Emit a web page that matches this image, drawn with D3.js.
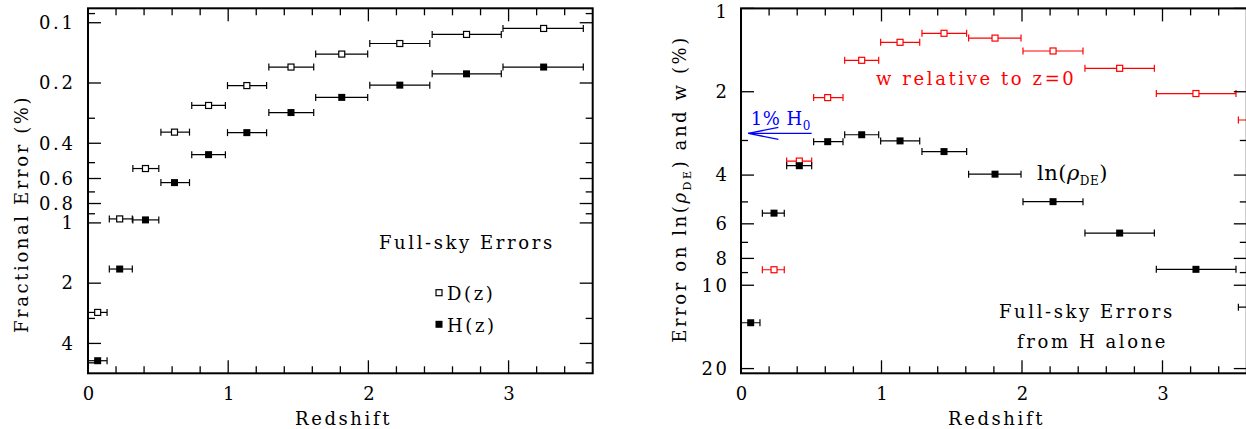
<!DOCTYPE html>
<html><head><meta charset="utf-8">
<script src="https://cdn.jsdelivr.net/npm/d3@7"></script>
<style>
html,body{margin:0;padding:0;background:#fff;}
svg{display:block;}
text{font-family:"DejaVu Serif","Liberation Serif",serif;}
</style></head>
<body>
<svg id="chart" width="1246" height="429"></svg>
<script>
// ---------- data ----------
// left panel: redshift bins
const zLoL  = [0.00, 0.152, 0.32, 0.52, 0.74, 0.995, 1.29, 1.624, 2.01, 2.455, 2.96];
const zHiL  = [0.136, 0.316, 0.505, 0.724, 0.98, 1.274, 1.61, 1.995, 2.438, 2.948, 3.533];
const zMidL = [0.069, 0.226, 0.41, 0.617, 0.86, 1.133, 1.448, 1.81, 2.224, 2.70, 3.25];
const dErr  = [2.80, 0.955, 0.535, 0.352, 0.259, 0.206, 0.1665, 0.1434, 0.127, 0.1144, 0.1068];
const hErr  = [4.88, 1.70, 0.966, 0.629, 0.456, 0.354, 0.281, 0.236, 0.205, 0.180, 0.1665];

// right panel: redshift bins (last bin runs off the plotted range)
const zLoR  = [0.00, 0.152, 0.325, 0.517, 0.738, 0.994, 1.288, 1.62, 2.007, 2.448, 2.956, 3.54];
const zHiR  = [0.135, 0.308, 0.503, 0.726, 0.98, 1.272, 1.606, 1.993, 2.434, 2.942, 3.523, 4.10];
const zMidR = [0.069, 0.235, 0.415, 0.617, 0.859, 1.132, 1.445, 1.808, 2.221, 2.695, 3.238, 3.82];
const rhoErr = [13.66, 5.49, 3.70, 3.03, 2.86, 3.01, 3.29, 3.97, 4.99, 6.48, 8.76, 12.0];
const wErr   = [null, 8.79, 3.56, 2.10, 1.54, 1.326, 1.23, 1.28, 1.425, 1.646, 2.03, 2.53];

// axis ticks
const xMajor = [0, 1, 2, 3];
const xMinor = [0.2,0.4,0.6,0.8,1.2,1.4,1.6,1.8,2.2,2.4,2.6,2.8,3.2,3.4];
const yMajorL = [0.1, 0.2, 0.4, 0.6, 0.8, 1, 2, 4];
const yMinorL = [0.09, 0.3, 0.5, 0.7, 0.9, 3, 5];
const yMajorR = [1, 2, 4, 6, 8, 10, 20];
const yMinorR = [3, 5, 7, 9];

// ---------- layout ----------
const svg = d3.select("#chart");
const L = {x0: 88, x1: 592.7, y0: 8.3, y1: 373.3};
const R = {x0: 741, x1: 1246.8, y0: 8.4, y1: 373.3};

const xL = d3.scaleLinear().domain([0, 3.6]).range([L.x0, L.x1]);
const yL = d3.scaleLog().domain([0.0847, 5.64]).range([L.y0, L.y1]);
const xR = d3.scaleLinear().domain([0, 3.6]).range([R.x0, R.x1]);
const yR = d3.scaleLog().domain([1, 20.8]).range([R.y0, R.y1]);

const FS = 18, LS = 2.6;

function txt(sel) {
  return sel.attr("font-size", FS).attr("letter-spacing", LS).attr("fill", "#000");
}

function frame(P, x, y, yMaj, yMin, yFmt, pad) {
  const g = svg.append("g");
  const TM = 13, Tm = 7;
  const axB = d3.axisBottom(x).tickValues(xMajor).tickSize(0).tickPadding(10).tickFormat(d3.format("d"));
  const gb = g.append("g").attr("transform", `translate(0,${P.y1})`).call(axB);
  gb.select(".domain").remove();
  txt(gb.selectAll("text")).attr("font-family", '"DejaVu Serif",serif').attr("dy", "0.95em").attr("dx", LS / 2);
  const tk = g.append("g").attr("stroke", "#000").attr("stroke-width", 1.3);
  xMajor.forEach(v => {
    tk.append("line").attr("x1", x(v)).attr("x2", x(v)).attr("y1", P.y1).attr("y2", P.y1 - TM);
    tk.append("line").attr("x1", x(v)).attr("x2", x(v)).attr("y1", P.y0).attr("y2", P.y0 + TM);
  });
  xMinor.forEach(v => {
    tk.append("line").attr("x1", x(v)).attr("x2", x(v)).attr("y1", P.y1).attr("y2", P.y1 - Tm);
    tk.append("line").attr("x1", x(v)).attr("x2", x(v)).attr("y1", P.y0).attr("y2", P.y0 + Tm);
  });
  yMaj.forEach(v => {
    tk.append("line").attr("x1", P.x0).attr("x2", P.x0 + TM).attr("y1", y(v)).attr("y2", y(v));
    tk.append("line").attr("x1", P.x1).attr("x2", P.x1 - TM).attr("y1", y(v)).attr("y2", y(v));
  });
  yMin.forEach(v => {
    tk.append("line").attr("x1", P.x0).attr("x2", P.x0 + Tm).attr("y1", y(v)).attr("y2", y(v));
    tk.append("line").attr("x1", P.x1).attr("x2", P.x1 - Tm).attr("y1", y(v)).attr("y2", y(v));
  });
  const axL = d3.axisLeft(y).tickValues(yMaj).tickSize(0).tickPadding(pad).tickFormat(yFmt);
  const gl = g.append("g").attr("transform", `translate(${P.x0},0)`).call(axL);
  gl.select(".domain").remove();
  txt(gl.selectAll("text")).attr("font-family", '"DejaVu Serif",serif');
  // keep the top label inside the picture
  gl.selectAll(".tick").filter(d => y(d) - P.y0 < 2).select("text").attr("dy", "0.5em");
  g.append("rect").attr("x", P.x0).attr("y", P.y0).attr("width", P.x1 - P.x0).attr("height", P.y1 - P.y0)
    .attr("fill", "none").attr("stroke", "#000").attr("stroke-width", 2);
  txt(g.append("text").attr("x", P.x0 + 207).attr("y", 425)).text("Redshift");
}

function errbars(g, x, y, lo, hi, mid, val, color, open) {
  const idx = d3.range(val.length).filter(i => val[i] != null);
  const cap = 3.5;
  const eg = g.append("g").attr("stroke", color).attr("stroke-width", 1.2).attr("fill", "none");
  idx.forEach(i => {
    const yy = y(val[i]);
    eg.append("line").attr("x1", x(lo[i])).attr("x2", x(hi[i])).attr("y1", yy).attr("y2", yy);
    eg.append("line").attr("x1", x(lo[i])).attr("x2", x(lo[i])).attr("y1", yy - cap).attr("y2", yy + cap);
    eg.append("line").attr("x1", x(hi[i])).attr("x2", x(hi[i])).attr("y1", yy - cap).attr("y2", yy + cap);
  });
  const s = open ? 6 : 7;
  g.append("g").selectAll("rect").data(idx).join("rect")
    .attr("x", i => x(mid[i]) - s / 2).attr("y", i => y(val[i]) - s / 2)
    .attr("width", s).attr("height", s)
    .attr("fill", open ? "#fff" : color).attr("stroke", open ? color : "none").attr("stroke-width", 1.2);
}

// ---------- left panel ----------
const gL = svg.append("g");
errbars(gL, xL, yL, zLoL, zHiL, zMidL, dErr, "#000", true);
errbars(gL, xL, yL, zLoL, zHiL, zMidL, hErr, "#000", false);
frame(L, xL, yL, yMajorL, yMinorL, d => (d < 1 ? d3.format(".1f")(d) : d3.format("d")(d)), 12.5);

txt(gL.append("text").attr("x", 379).attr("y", 248.5)).text("Full-sky Errors");
gL.append("rect").attr("x", 436).attr("y", 289.7).attr("width", 6).attr("height", 6).attr("fill", "#fff").attr("stroke", "#000").attr("stroke-width", 1.2);
txt(gL.append("text").attr("x", 447).attr("y", 300)).text("D(z)");
gL.append("rect").attr("x", 435.5).attr("y", 320.8).attr("width", 7).attr("height", 7).attr("fill", "#000");
txt(gL.append("text").attr("x", 447).attr("y", 331.7)).text("H(z)");

txt(svg.append("text").attr("transform", "translate(28,214) rotate(-90)").attr("text-anchor", "middle"))
  .text("Fractional Error (%)");

// ---------- right panel ----------
svg.append("clipPath").attr("id", "clipR").append("rect")
  .attr("x", R.x0).attr("y", R.y0).attr("width", R.x1 - R.x0).attr("height", R.y1 - R.y0);
const gR = svg.append("g").attr("clip-path", "url(#clipR)");
errbars(gR, xR, yR, zLoR, zHiR, zMidR, wErr, "#ff0000", true);
errbars(gR, xR, yR, zLoR, zHiR, zMidR, rhoErr, "#000", false);
frame(R, xR, yR, yMajorR, yMinorR, d3.format("d"), 11.5);

// annotations
txt(svg.append("text").attr("x", 876).attr("y", 85)).attr("fill", "#ff0000").text("w relative to z=0");
const lnT = svg.append("text").attr("x", 1037).attr("y", 180).attr("font-size", 21).attr("letter-spacing", 0.5);
lnT.append("tspan").text("ln(");
lnT.append("tspan").attr("font-style", "italic").text("ρ");
lnT.append("tspan").attr("font-size", 12).attr("dy", 5).text("DE");
lnT.append("tspan").attr("dy", -5).text(")");
txt(svg.append("text").attr("x", 999).attr("y", 318)).text("Full-sky Errors");
txt(svg.append("text").attr("x", 1017).attr("y", 347.7)).text("from H alone");

// 1% H0 arrow
const arY = yR(2.827);
const ag = svg.append("g").attr("stroke", "#0000ff").attr("stroke-width", 1.3).attr("fill", "none");
ag.append("line").attr("x1", xR(0.503)).attr("x2", xR(0.052)).attr("y1", arY).attr("y2", arY);
ag.append("line").attr("x1", xR(0.052)).attr("x2", xR(0.266)).attr("y1", arY).attr("y2", arY - 6);
ag.append("line").attr("x1", xR(0.052)).attr("x2", xR(0.266)).attr("y1", arY).attr("y2", arY + 6);
const hT = svg.append("text").attr("x", xR(0.069)).attr("y", yR(2.64)).attr("font-size", FS).attr("fill", "#0000ff").attr("letter-spacing", 0.5);
hT.append("tspan").text("1% H");
hT.append("tspan").attr("font-size", 12).attr("dy", 5).text("0");

const yl = txt(svg.append("text").attr("transform", "translate(686,189) rotate(-90)").attr("text-anchor", "middle"));
yl.append("tspan").text("Error on ln(");
yl.append("tspan").attr("font-style", "italic").text("ρ");
yl.append("tspan").attr("font-size", 11).attr("dy", 5).text("DE");
yl.append("tspan").attr("dy", -5).text(") and w (%)");
</script>
</body></html>
